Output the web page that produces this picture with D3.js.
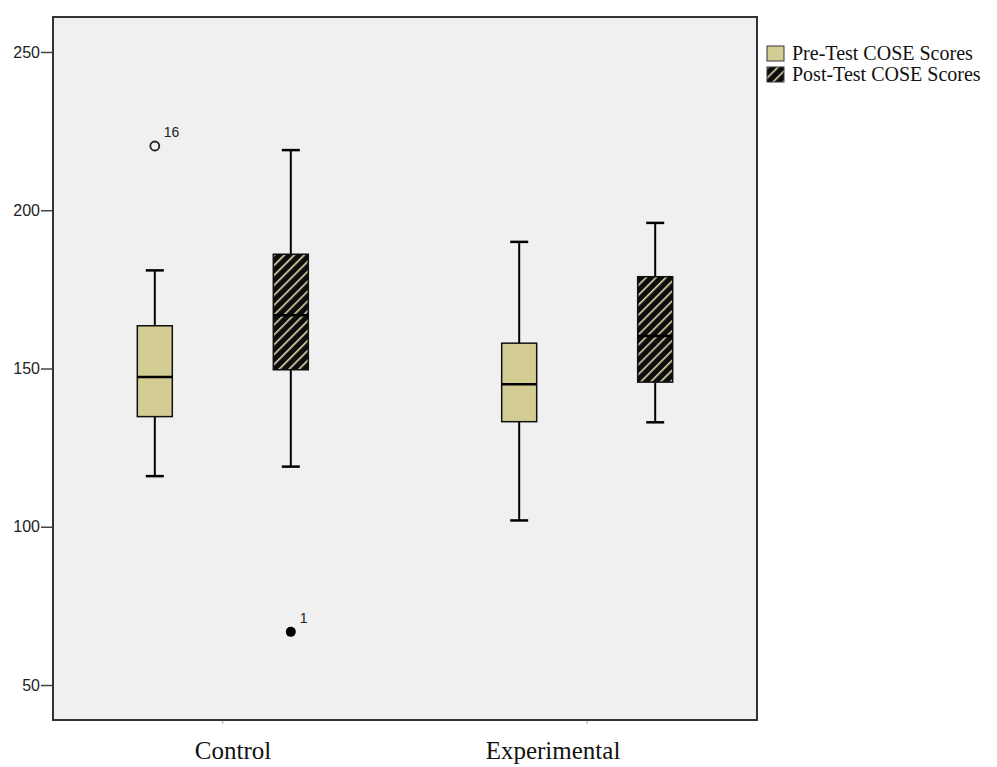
<!DOCTYPE html>
<html lang="en">
<head>
  <meta charset="utf-8" />
  <title>COSE Scores boxplot</title>
  <script src="https://unpkg.com/d3@7.9.0/dist/d3.min.js"></script>
  <style>
    html,body{margin:0;padding:0;background:#fff;}
    svg{display:block;}
  </style>
</head>
<body>
<svg id="svg" width="997" height="767"></svg>
<script>
// ----- data -----
const groups   = ['Control', 'Experimental'];
const series   = ['Pre-Test COSE Scores', 'Post-Test COSE Scores'];
// [group][series] five-number summaries: min whisker, q1, median, q3, max whisker
const lowWhisk = [[116, 119], [102, 133]];
const q1       = [[134.8, 149.6], [133.2, 145.7]];
const medians  = [[147.3, 166.8], [145, 160.3]];
const q3       = [[163.5, 186.1], [158, 179]];
const highWhisk= [[181, 219], [190, 196]];
// outliers: group, series, value, case label, extreme?
const outGroup  = ['Control', 'Control'];
const outSeries = [0, 1];
const outValue  = [220.3, 66.8];
const outLabel  = ['16', '1'];
const outExtreme= [false, true];
const yTicks = [50, 100, 150, 200, 250];

const svg = d3.select('#svg');
const pL = 53, pR = 757, pT = 17, pB = 720;

const y = d3.scaleLinear().domain([38.95, 261.05]).range([pB, pT]);
const x = d3.scalePoint().domain(groups).range([pL, pR]).padding(0.466);
const sub = d3.scalePoint().domain(series).range([-68, 68]);
const boxW = 35, capW = 18;

// hatch pattern for post-test
const defs = svg.append('defs');
const pat = defs.append('pattern').attr('id', 'hatch').attr('patternUnits', 'userSpaceOnUse')
  .attr('width', 7).attr('height', 7).attr('patternTransform', 'rotate(45)');
pat.append('rect').attr('width', 7).attr('height', 7).attr('fill', '#0d0d0d');
pat.append('rect').attr('x', 0).attr('width', 1.6).attr('height', 7).attr('fill', '#dcd6a8');
const fills = ['#d3cd94', 'url(#hatch)'];

// plot background
svg.append('rect').attr('x', pL).attr('y', pT).attr('width', pR - pL).attr('height', pB - pT)
  .attr('fill', '#f0f0f0');

// y axis
const yAxis = svg.append('g').attr('transform', `translate(${pL},0)`)
  .call(d3.axisLeft(y).tickValues(yTicks).tickSize(12).tickPadding(1));
yAxis.select('.domain').remove();
yAxis.selectAll('line').attr('stroke', '#444').attr('stroke-width', 1.5);
yAxis.selectAll('text').attr('font-family', 'Liberation Sans, Arial, sans-serif').attr('font-size', 16)
  .attr('fill', '#222');

// x axis ticks (small) and labels
svg.selectAll('.xt').data(groups).enter().append('line')
  .attr('x1', d => x(d)).attr('x2', d => x(d)).attr('y1', pB).attr('y2', pB + 4)
  .attr('stroke', '#aaa').attr('stroke-width', 1);
const labelX = {Control: 233, Experimental: 553};
svg.selectAll('.xl').data(groups).enter().append('text')
  .attr('x', d => labelX[d]).attr('y', 759).attr('text-anchor', 'middle')
  .attr('font-family', 'Liberation Serif, Times New Roman, serif').attr('font-size', 25)
  .attr('fill', '#111').text(d => d);

// boxes
const boxes = [];
groups.forEach((g, gi) => series.forEach((s, si) => boxes.push({
  g, s, si, lo: lowWhisk[gi][si], q1: q1[gi][si], med: medians[gi][si], q3: q3[gi][si], hi: highWhisk[gi][si]
})));

const bg = svg.selectAll('.box').data(boxes).enter().append('g')
  .attr('transform', d => `translate(${x(d.g) + sub(d.s)},0)`);
bg.append('line').attr('y1', d => y(d.hi)).attr('y2', d => y(d.q3)).attr('stroke', '#000').attr('stroke-width', 2);
bg.append('line').attr('y1', d => y(d.lo)).attr('y2', d => y(d.q1)).attr('stroke', '#000').attr('stroke-width', 2);
bg.append('line').attr('x1', -capW / 2).attr('x2', capW / 2).attr('y1', d => y(d.hi)).attr('y2', d => y(d.hi))
  .attr('stroke', '#000').attr('stroke-width', 2.5);
bg.append('line').attr('x1', -capW / 2).attr('x2', capW / 2).attr('y1', d => y(d.lo)).attr('y2', d => y(d.lo))
  .attr('stroke', '#000').attr('stroke-width', 2.5);
bg.append('rect').attr('x', -boxW / 2).attr('width', boxW)
  .attr('y', d => y(d.q3)).attr('height', d => y(d.q1) - y(d.q3))
  .attr('fill', d => fills[d.si]).attr('stroke', '#111').attr('stroke-width', 1.5);
bg.append('line').attr('x1', -boxW / 2).attr('x2', boxW / 2).attr('y1', d => y(d.med)).attr('y2', d => y(d.med))
  .attr('stroke', '#000').attr('stroke-width', 2.5);

// outliers
const outs = outValue.map((v, i) => ({g: outGroup[i], s: series[outSeries[i]], v, lab: outLabel[i], ext: outExtreme[i]}));
svg.selectAll('.out').data(outs).enter().append('circle')
  .attr('cx', d => x(d.g) + sub(d.s)).attr('cy', d => y(d.v)).attr('r', d => d.ext ? 5 : 4.5)
  .attr('fill', d => d.ext ? '#000' : 'none').attr('stroke', '#222').attr('stroke-width', d => d.ext ? 0 : 1.8);
svg.selectAll('.outl').data(outs).enter().append('text')
  .attr('x', d => x(d.g) + sub(d.s) + 9).attr('y', d => y(d.v) - 9)
  .attr('font-family', 'Liberation Sans, Arial, sans-serif').attr('font-size', 14).attr('fill', '#222')
  .text(d => d.lab);

// plot frame
svg.append('rect').attr('x', pL).attr('y', pT).attr('width', pR - pL).attr('height', pB - pT)
  .attr('fill', 'none').attr('stroke', '#333').attr('stroke-width', 2);

// legend
const lg = svg.selectAll('.leg').data(series).enter().append('g')
  .attr('transform', (d, i) => `translate(767,${46 + i * 21})`);
lg.append('rect').attr('width', 17).attr('height', 15).attr('fill', (d, i) => fills[i])
  .attr('stroke', '#333').attr('stroke-width', 1);
lg.append('text').attr('x', 25).attr('y', 14)
  .attr('font-family', 'Liberation Serif, Times New Roman, serif').attr('font-size', 20).attr('fill', '#111')
  .text(d => d);
</script>
</body>
</html>
